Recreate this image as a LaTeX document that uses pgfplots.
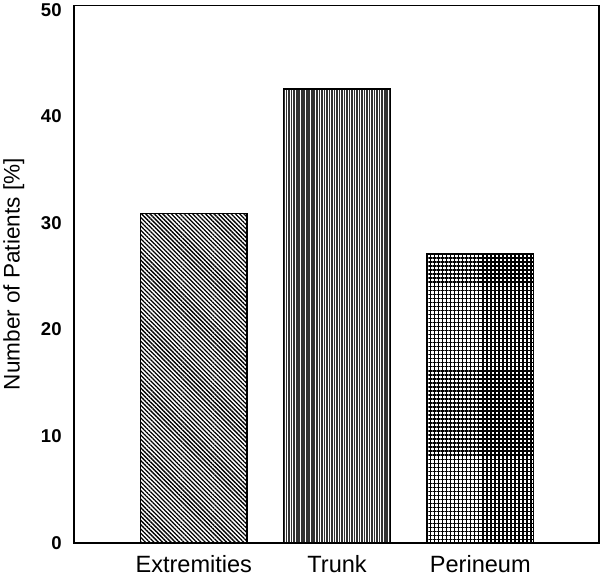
\documentclass[border=0pt]{standalone}
\usepackage{pgfplots}
\pgfplotsset{compat=1.18}
\usetikzlibrary{patterns.meta}
\usepackage{fontspec}
\setmainfont{Liberation Sans}
\begin{document}
\begin{tikzpicture}
\begin{axis}[
  scale only axis,
  width=522bp, height=534bp,
  xmin=-0.835, xmax=2.83,
  ymin=0, ymax=50.4,
  xtick={0,1,2},
  xticklabels={Extremities,Trunk,Perineum},
  ytick={0,10,20,30,40,50},
  major tick length=0pt,
  axis line style={line width=1.6bp},
  ticklabel style={/pgf/number format/assume math mode=true},
  yticklabel style={font=\fontsize{18.5}{20}\selectfont\bfseries, anchor=east, xshift=-9bp},
  xticklabel style={font=\fontsize{23.5}{25}\selectfont, anchor=north, yshift=-9bp},
  ylabel={Number of Patients [\%]},
  ylabel style={font=\fontsize{22.5}{24}\selectfont, at={(rel axis cs:0,0.5)}, anchor=center, yshift=60bp},
  ybar, bar width=0.745, bar shift=0pt,
  clip=false,
]
\addplot[draw=black, line width=1.6bp,
  pattern={Lines[angle=-45, distance=3bp, line width=1.3bp]}, pattern color=black]
  coordinates {(0,30.9)};
\addplot[draw=black, line width=1.6bp,
  pattern={Lines[angle=90, distance=2.5bp, line width=1.6bp]}, pattern color=black!80]
  coordinates {(1,42.6)};
\addplot[draw=black, line width=1.6bp,
  pattern={Hatch[angle=0, distance=4bp, line width=1.5bp]}, pattern color=black]
  coordinates {(2,27.1)};
\end{axis}
\end{tikzpicture}
\end{document}
